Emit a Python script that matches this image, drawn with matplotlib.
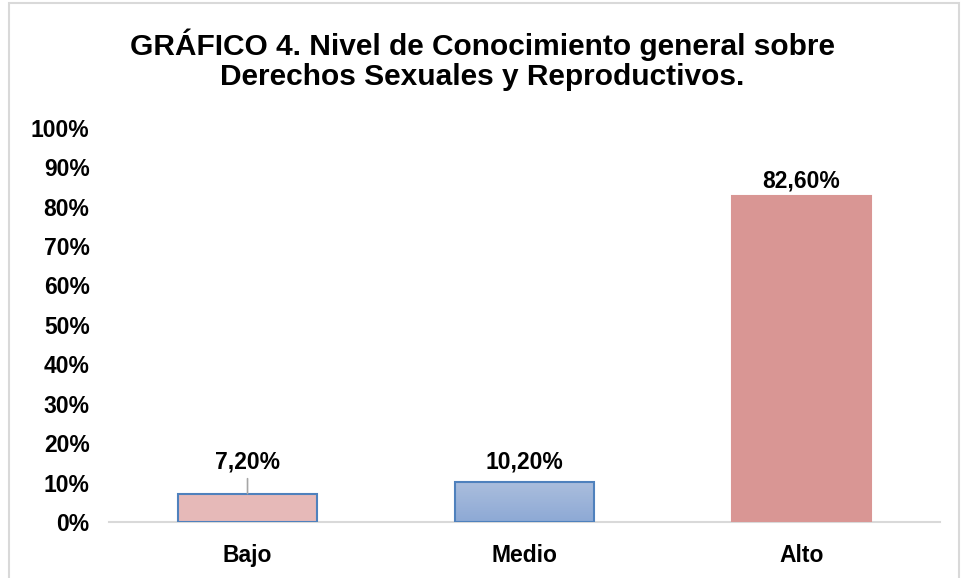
import matplotlib
matplotlib.use("Agg")
import matplotlib.pyplot as plt
import numpy as np
from matplotlib.patches import Rectangle
from matplotlib.colors import LinearSegmentedColormap

categories = ["Bajo", "Medio", "Alto"]
values = [0.072, 0.102, 0.826]
value_labels = ["7,20%", "10,20%", "82,60%"]
yticks = [0, 0.1, 0.2, 0.3, 0.4, 0.5, 0.6, 0.7, 0.8, 0.9, 1.0]
ytick_labels = ["0%", "10%", "20%", "30%", "40%", "50%", "60%", "70%", "80%", "90%", "100%"]
title = "GRÁFICO 4. Nivel de Conocimiento general sobre\nDerechos Sexuales y Reproductivos."

plt.rcParams['font.family'] = ['Liberation Sans', 'DejaVu Sans']

fig = plt.figure(figsize=(9.65, 5.78), dpi=100)
ax = fig.add_axes([0.113, 0.097, 0.861, 0.682])

x = np.arange(len(categories))
fills = ['#E6B9B8', '#9DB3D9', '#D99694']
edges = ['#4F81BD', '#4F81BD', '#D99694']
bars = ax.bar(x, values, width=0.5, color=fills, edgecolor=edges, linewidth=1.5, zorder=3)

# gradient on the Medio bar
b = bars[1]
grad = np.linspace(0, 1, 100).reshape(-1, 1)
cmap = LinearSegmentedColormap.from_list('g', ['#8DA9D5', '#ABBEDD'])
im = ax.imshow(grad, cmap=cmap, aspect='auto', origin='lower',
               extent=[b.get_x(), b.get_x() + b.get_width(), 0, b.get_height()], zorder=3)
im.set_clip_path(b)
b.set_facecolor('none')
b.set_zorder(4)

# data labels
offsets = [23, 14, 11]
for xi, v, lab, off in zip(x, values, value_labels, offsets):
    if off > 20:
        ax.annotate(lab, xy=(xi, v), xytext=(0, off), textcoords='offset points',
                    ha='center', va='center', fontsize=16.5, fontweight='bold',
                    arrowprops=dict(arrowstyle='-', color='#A6A6A6', lw=1.2,
                                    shrinkA=2, shrinkB=0))
    else:
        ax.annotate(lab, xy=(xi, v), xytext=(0, off), textcoords='offset points',
                    ha='center', va='center', fontsize=16.5, fontweight='bold')

ax.set_xlim(-0.5, 2.5)
ax.set_ylim(0, 1.0)
ax.set_yticks(yticks)
ax.set_yticklabels(ytick_labels, fontsize=16.5, fontweight='bold')
ax.set_xticks(x)
ax.set_xticklabels(categories, fontsize=16.5, fontweight='bold')
ax.tick_params(axis='both', length=0)
ax.tick_params(axis='x', pad=16)
ax.tick_params(axis='y', pad=14)
for s in ['top', 'right', 'left']:
    ax.spines[s].set_visible(False)
ax.spines['bottom'].set_color('#D9D9D9')
ax.spines['bottom'].set_linewidth(1.5)

fig.text(0.5, 0.896, title, ha='center', va='center', fontsize=21.5,
         fontweight='bold', linespacing=1.08)

fig.patches.append(Rectangle((0.009, -0.01), 0.985, 1.005, transform=fig.transFigure,
                             fill=False, edgecolor='#D9D9D9', linewidth=1.5))

fig.savefig('out.png', dpi=100)
